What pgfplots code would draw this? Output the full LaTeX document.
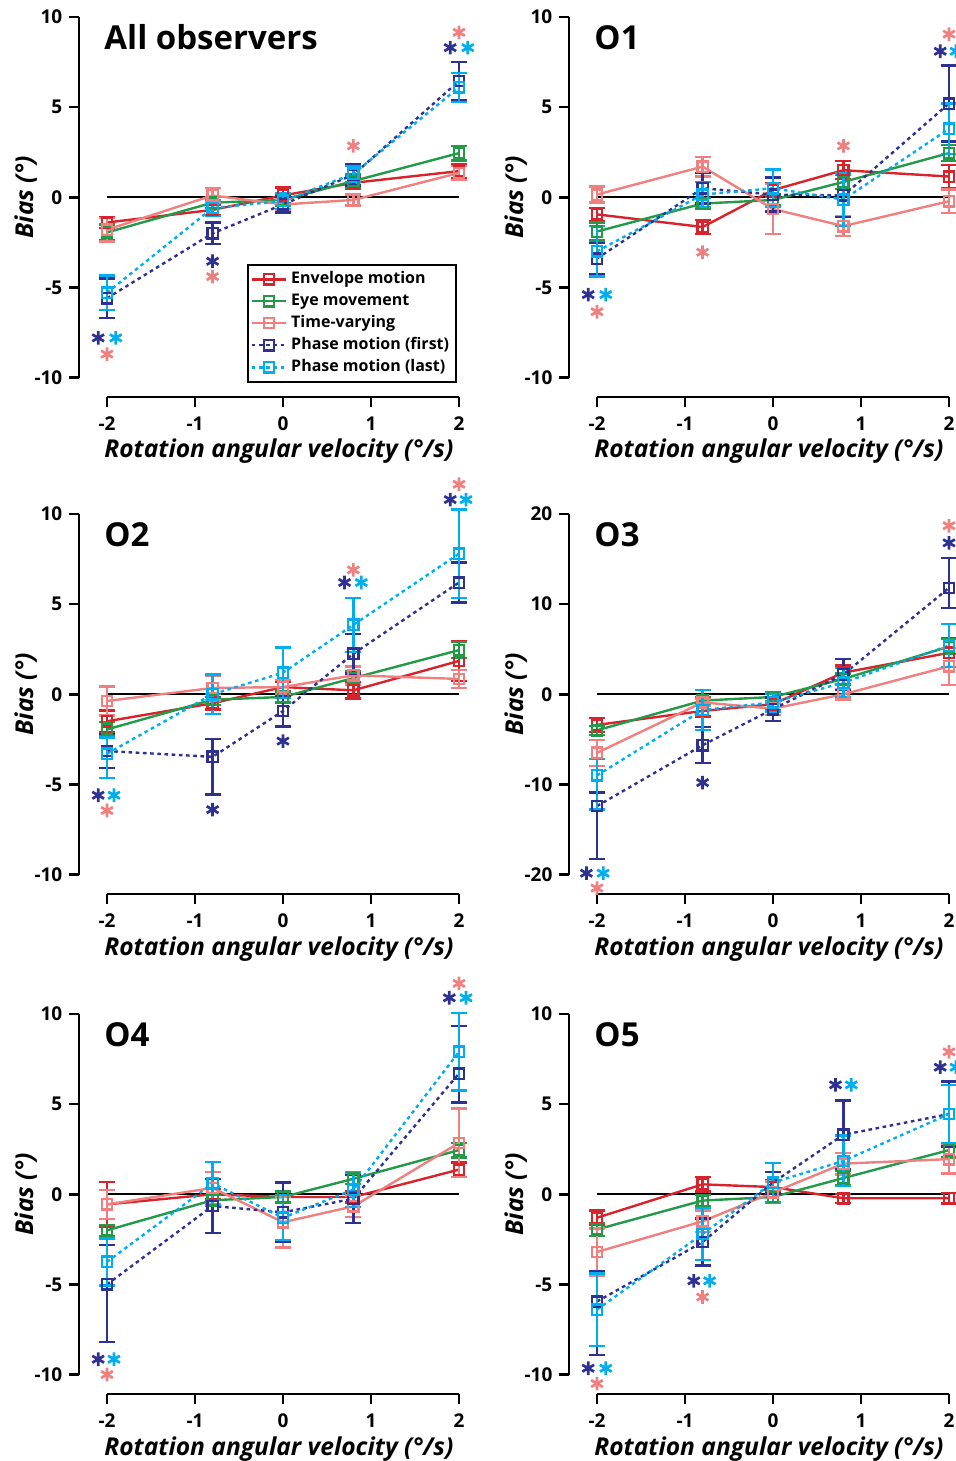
\documentclass[border=0pt]{standalone}
\usepackage{pgfplots}
\pgfplotsset{compat=1.18}
\usepackage{fontspec}
\setmainfont{Open Sans}
\definecolor{cEnv}{RGB}{214,35,44}
\definecolor{cEye}{RGB}{34,154,72}
\definecolor{cTime}{RGB}{240,128,128}
\definecolor{cFirst}{RGB}{46,49,146}
\definecolor{cLast}{RGB}{0,174,239}
\pgfplotsset{
  panel/.style={
    scale only axis, width=190pt, height=190pt, anchor=south west,
    xmin=-2.318, xmax=2, ymin=-11.08, ymax=10,
    axis x line*=bottom, axis y line*=left,
    axis line style={line width=1.3pt, black},
    x axis line style={shorten <=14pt},
    y axis line style={shorten <=9.73pt},
    xtick={-2,-1,0,1,2}, xticklabels={-2,-1,0,1,2},
    ytick={-10,-5,0,5,10}, yticklabels={-10,-5,0,5,10},
    tick align=outside, major tick length=4.8pt,
    every tick/.style={black, line width=1.3pt},
    tick label style={font=\fontsize{9.5}{11}\selectfont\bfseries},
    xticklabel style={anchor=base, yshift=-12pt},
    yticklabel style={anchor=east, xshift=0pt},
    xlabel={Rotation angular velocity (°/s)},
    ylabel={Bias (°)},
    every axis x label/.style={at={(axis description cs:0.526,-0.1605)}, anchor=base, font=\fontsize{12.3}{14}\selectfont\bfseries\itshape},
    every axis y label/.style={at={(axis description cs:-0.121,0.5256)}, rotate=90, anchor=base, font=\fontsize{12.3}{14}\selectfont\bfseries\itshape},
    clip=false,
  },
  base/.style={line width=1.2pt, mark=square, mark size=2.6pt,
    mark options={solid, fill=none, line width=1.2pt},
    error bars/.cd, y dir=both, y explicit,
    error bar style={line width=1.2pt, solid},
    error mark options={rotate=90, line width=1.2pt, mark size=4pt, solid}},
  env/.style={cEnv, base},
  eye/.style={cEye, base},
  tvar/.style={cTime, base},
  first/.style={cFirst, dash pattern=on 1.8pt off 1.8pt, base},
  last/.style={cLast, dash pattern=on 1.8pt off 1.8pt, base},
  ast/.style={only marks, mark=asterisk, mark size=3.4pt, line width=1.35pt, forget plot},
}
\newcommand{\zeroline}{\addplot[black, line width=0.8pt, forget plot] coordinates {(-2,0) (2,0)};}
\newcommand{\ptitle}[1]{\node[anchor=base west, inner sep=0pt, font=\fontsize{16.5}{19}\selectfont\bfseries] at (axis description cs:0.066,0.915) {#1};}
\begin{document}
\begin{tikzpicture}
\useasboundingbox (0,0) rectangle (478pt,-730.5pt);
% ---------------- All observers
\begin{axis}[panel, at={(39.5pt,-198.5pt)},
  legend style={at={(axis description cs:0.995,0.037)}, anchor=south east, draw=black, line width=1pt,
    font=\fontsize{8}{10}\selectfont\bfseries, inner sep=1.5pt, row sep=-0.5pt, legend cell align=left}]
\zeroline
\addplot[env] coordinates {(-2,-1.4) +- (0,0.3) (-0.8,-0.7) +- (0,0.3) (0,0.1) +- (0,0.45) (0.8,0.8) +- (0,0.35) (2,1.45) +- (0,0.4)};
\addplot[eye] coordinates {(-2,-1.95) +- (0,0.45) (-0.8,-0.3) +- (0,0.3) (0,-0.15) +- (0,0.3) (0.8,0.9) +- (0,0.4) (2,2.45) +- (0,0.4)};
\addplot[tvar] coordinates {(-2,-1.8) +- (0,0.65) (-0.8,0.1) +- (0,0.4) (0,-0.4) +- (0,0.3) (0.8,-0.15) +- (0,0.3) (2,1.35) +- (0,0.4)};
\addplot[first] coordinates {(-2,-5.6) +- (0,1.1) (-0.8,-2.0) +- (0,0.6) (0,-0.4) +- (0,0.45) (0.8,1.25) +- (0,0.6) (2,6.45) +- (0,1.05)};
\addplot[last] coordinates {(-2,-5.3) +- (0,0.95) (-0.8,-0.6) +- (0,0.45) (0,-0.2) +- (0,0.45) (0.8,1.3) +- (0,0.45) (2,6.1) +- (0,0.8)};
\addplot[ast, cFirst] coordinates {(-2.1,-7.8) (-0.8,-3.55) (1.9,8.3)};
\addplot[ast, cLast] coordinates {(-1.9,-7.8) (2.1,8.3)};
\addplot[ast, cTime] coordinates {(-2,-8.7) (-0.8,-4.4) (0.8,2.85) (2,9.15)};
\legend{Envelope motion, Eye movement, Time-varying, Phase motion (first), Phase motion (last)}
\ptitle{All observers}
\end{axis}
% ---------------- O1
\begin{axis}[panel, at={(284.5pt,-198.5pt)}]
\zeroline
\addplot[env] coordinates {(-2,-0.95) +- (0,0.35) (-0.8,-1.65) +- (0,0.4) (0,0.4) +- (0,0.4) (0.8,1.5) +- (0,0.5) (2,1.15) +- (0,0.65)};
\addplot[eye] coordinates {(-2,-1.9) +- (0,0.5) (-0.8,-0.35) +- (0,0.3) (0,-0.15) +- (0,0.3) (0.8,0.85) +- (0,0.4) (2,2.45) +- (0,0.45)};
\addplot[tvar] coordinates {(-2,0.15) +- (0,0.45) (-0.8,1.7) +- (0,0.55) (0,-0.65) +- (0,1.4) (0.8,-1.6) +- (0,0.55) (2,-0.22) +- (0,0.65)};
\addplot[first] coordinates {(-2,-3.4) +- (0,0.85) (-0.8,0.5) +- (0,0.85) (0,0.15) +- (0,0.95) (0.8,0.1) +- (0,1.2) (2,5.2) +- (0,2.1)};
\addplot[last] coordinates {(-2,-3.0) +- (0,1.4) (-0.8,0.15) +- (0,0.7) (0,0.5) +- (0,1.05) (0.8,-0.13) +- (0,1.45) (2,3.8) +- (0,1.4)};
\addplot[ast, cFirst] coordinates {(-2.1,-5.4) (1.9,8.1)};
\addplot[ast, cLast] coordinates {(-1.9,-5.4) (2.08,8.1)};
\addplot[ast, cTime] coordinates {(-2,-6.35) (-0.8,-3.05) (0.8,2.85) (2,9.05)};
\ptitle{O1}
\end{axis}
% ---------------- O2
\begin{axis}[panel, at={(39.5pt,-447pt)}]
\zeroline
\addplot[env] coordinates {(-2,-1.5) +- (0,0.6) (-0.8,-0.5) +- (0,0.35) (0,0.4) +- (0,0.3) (0.8,0.22) +- (0,0.45) (2,1.85) +- (0,1.1)};
\addplot[eye] coordinates {(-2,-1.95) +- (0,0.4) (-0.8,-0.3) +- (0,0.3) (0,-0.15) +- (0,0.3) (0.8,0.9) +- (0,0.4) (2,2.45) +- (0,0.45)};
\addplot[tvar] coordinates {(-2,-0.37) +- (0,0.8) (-0.8,0.35) +- (0,0.7) (0,0.4) +- (0,0.4) (0.8,1.05) +- (0,0.5) (2,0.85) +- (0,0.5)};
\addplot[first] coordinates {(-2,-3.15) +- (0,0.95) (-0.8,-3.47) += (0,1.0) -= (0,2.1) (0,-0.93) +- (0,0.85) (0.8,2.25) +- (0,1.1) (2,6.2) +- (0,1.1)};
\addplot[last] coordinates {(-2,-3.3) += (0,0.9) -= (0,1.35) (-0.8,0.0) +- (0,1.1) (0,1.2) +- (0,1.4) (0.8,3.85) +- (0,1.5) (2,7.8) +- (0,2.45)};
\addplot[ast, cFirst] coordinates {(-2.1,-5.6) (-0.8,-6.4) (0,-2.6) (0.7,6.2) (1.9,10.8)};
\addplot[ast, cLast] coordinates {(-1.92,-5.6) (0.89,6.2) (2.08,10.8)};
\addplot[ast, cTime] coordinates {(-2,-6.45) (0.8,6.9) (2,11.65)};
\ptitle{O2}
\end{axis}
% ---------------- O3
\begin{axis}[panel, at={(284.5pt,-447pt)}, ymin=-22.16, ymax=20,
  ytick={-20,-10,0,10,20}, yticklabels={-20,-10,0,10,20}]
\zeroline
\addplot[env] coordinates {(-2,-3.4) +- (0,0.8) (-0.8,-1.85) +- (0,0.6) (0,-1.1) +- (0,0.7) (0.8,2.4) +- (0,0.8) (2,4.6) +- (0,1.6)};
\addplot[eye] coordinates {(-2,-4.0) +- (0,0.5) (-0.8,-0.7) +- (0,0.4) (0,-0.3) +- (0,0.5) (0.8,1.7) +- (0,0.6) (2,5.3) +- (0,0.8)};
\addplot[tvar] coordinates {(-2,-6.5) +- (0,1.45) (-0.8,-0.9) +- (0,0.4) (0,-1.6) +- (0,0.7) (0.8,0.0) +- (0,0.6) (2,3.1) +- (0,2.05)};
\addplot[first] coordinates {(-2,-12.4) += (0,1.5) -= (0,5.9) (-0.8,-5.65) +- (0,2.0) (0,-1.65) +- (0,1.3) (0.8,2.2) +- (0,1.7) (2,11.8) += (0,3.3) -= (0,2.2)};
\addplot[last] coordinates {(-2,-9.0) += (0,1.8) -= (0,3.8) (-0.8,-1.75) +- (0,2.2) (0,-0.9) +- (0,1.0) (0.8,1.3) +- (0,1.6) (2,5.4) +- (0,2.4)};
\addplot[ast, cFirst] coordinates {(-2.12,-19.85) (-0.8,-9.8) (2,16.8)};
\addplot[ast, cLast] coordinates {(-1.93,-19.85)};
\addplot[ast, cTime] coordinates {(-2,-21.5) (2,18.7)};
\ptitle{O3}
\end{axis}
% ---------------- O4
\begin{axis}[panel, at={(39.5pt,-697pt)}]
\zeroline
\addplot[env] coordinates {(-2,-0.56) +- (0,1.25) (-0.8,0.0) +- (0,0.3) (0,-0.15) +- (0,0.3) (0.8,-0.15) +- (0,0.3) (2,1.37) +- (0,0.4)};
\addplot[eye] coordinates {(-2,-2.0) +- (0,0.3) (-0.8,-0.33) +- (0,0.3) (0,-0.15) +- (0,0.3) (0.8,0.86) +- (0,0.3) (2,2.45) +- (0,0.4)};
\addplot[tvar] coordinates {(-2,-0.56) +- (0,0.8) (-0.8,0.35) +- (0,0.9) (0,-1.55) +- (0,1.4) (0.8,-0.67) +- (0,0.6) (2,2.85) +- (0,1.9)};
\addplot[first] coordinates {(-2,-5.0) += (0,2.2) -= (0,3.2) (-0.8,-0.65) +- (0,1.5) (0,-1.0) +- (0,1.65) (0.8,-0.25) +- (0,1.35) (2,6.7) += (0,2.65) -= (0,1.6)};
\addplot[last] coordinates {(-2,-3.75) +- (0,1.3) (-0.8,0.6) +- (0,1.2) (0,-1.3) +- (0,1.25) (0.8,0.26) +- (0,0.95) (2,7.9) +- (0,2.15)};
\addplot[ast, cFirst] coordinates {(-2.1,-9.15) (1.89,10.9)};
\addplot[ast, cLast] coordinates {(-1.92,-9.15) (2.08,10.9)};
\addplot[ast, cTime] coordinates {(-2,-10.0) (2,11.7)};
\ptitle{O4}
\end{axis}
% ---------------- O5
\begin{axis}[panel, at={(284.5pt,-697pt)}]
\zeroline
\addplot[env] coordinates {(-2,-1.3) +- (0,0.4) (-0.8,0.55) +- (0,0.4) (0,0.4) +- (0,0.4) (0.8,-0.22) +- (0,0.25) (2,-0.22) +- (0,0.3)};
\addplot[eye] coordinates {(-2,-1.95) +- (0,0.35) (-0.8,-0.35) +- (0,0.3) (0,-0.15) +- (0,0.3) (0.8,0.9) +- (0,0.4) (2,2.45) +- (0,0.4)};
\addplot[tvar] coordinates {(-2,-3.2) +- (0,1.3) (-0.8,-1.5) +- (0,0.6) (0,0.1) +- (0,0.6) (0.8,1.7) +- (0,0.6) (2,1.95) +- (0,0.8)};
\addplot[first] coordinates {(-2,-5.95) += (0,1.7) -= (0,2.95) (-0.8,-2.65) +- (0,1.3) (0,0.65) +- (0,0.6) (0.8,3.3) +- (0,1.9) (2,4.45) +- (0,1.8)};
\addplot[last] coordinates {(-2,-6.4) +- (0,2.0) (-0.8,-2.2) +- (0,1.45) (0,0.65) +- (0,1.1) (0.8,1.85) +- (0,1.4) (2,4.45) +- (0,1.6)};
\addplot[ast, cFirst] coordinates {(-2.1,-9.65) (-0.9,-4.8) (0.71,6.07) (1.9,7.05)};
\addplot[ast, cLast] coordinates {(-1.9,-9.65) (-0.72,-4.8) (0.89,6.07) (2.08,7.05)};
\addplot[ast, cTime] coordinates {(-2,-10.5) (-0.8,-5.7) (2,7.9)};
\ptitle{O5}
\end{axis}
\end{tikzpicture}
\end{document}
